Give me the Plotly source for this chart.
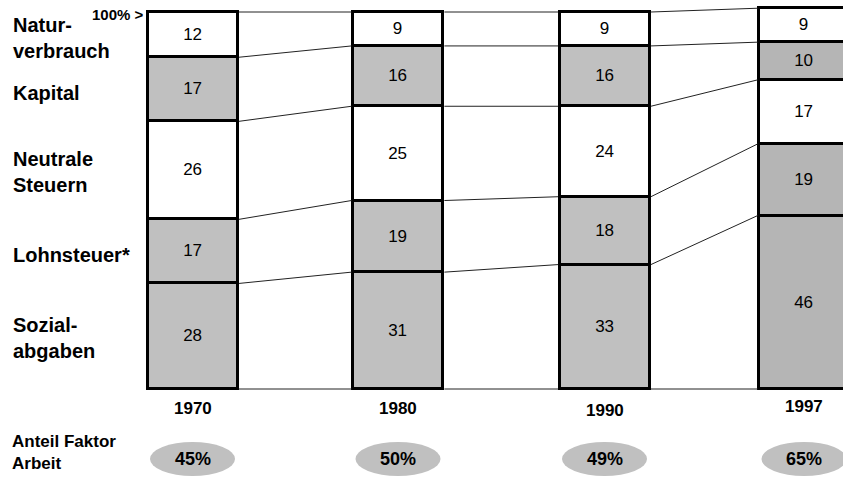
import plotly.graph_objects as go

# ---- data ----
years = ["1970", "1980", "1990", "1997"]
sozialabgaben = [28, 31, 33, 46]
lohnsteuer = [17, 19, 18, 19]
neutrale_steuern = [26, 25, 24, 17]
kapital = [17, 16, 16, 10]
naturverbrauch = [12, 9, 9, 9]
anteil_arbeit = ["45%", "50%", "49%", "65%"]

series_names = ["Sozial-<br>abgaben", "Lohnsteuer*", "Neutrale<br>Steuern", "Kapital", "Natur-<br>verbrauch"]
series_values = [sozialabgaben, lohnsteuer, neutrale_steuern, kapital, naturverbrauch]

# ---- layout helpers (pixel geometry) ----
W, H = 843, 477
Y0_PX, Y100_PX = 389, 12
UNIT = (Y0_PX - Y100_PX) / 100.0
def py(p):  # pixel y -> data y
    return (Y0_PX - p) / UNIT

xpos = [192.5, 398, 604.5, 804]
BW = 90
GRAY = "#c0c0c0"
GRAY2 = "#b5b5b5"
WHITE = "#ffffff"
series_fill = [
    [GRAY, GRAY, GRAY, GRAY2],
    [GRAY, GRAY, GRAY, GRAY2],
    [WHITE] * 4,
    [GRAY, GRAY, GRAY, GRAY2],
    [WHITE] * 4,
]
FONT = "Arial, Liberation Sans, sans-serif"

fig = go.Figure()

for name, vals, cols in zip(series_names, series_values, series_fill):
    fig.add_trace(go.Bar(
        x=xpos, y=vals, width=BW, name=name,
        marker=dict(color=cols, line=dict(color="black", width=2.8)),
        text=[str(v) for v in vals], textposition="inside",
        insidetextanchor="middle", textangle=0,
        textfont=dict(family=FONT, size=17, color="black"),
        hoverinfo="skip", showlegend=False,
    ))

# connector lines between bar boundaries
cums = []
for i in range(len(years)):
    c = [0]
    for vals in series_values:
        c.append(c[-1] + vals[i])
    cums.append(c)
for i in range(len(years) - 1):
    for k in range(len(cums[i])):
        fig.add_trace(go.Scatter(
            x=[xpos[i] + BW / 2 + 1.4, xpos[i + 1] - BW / 2 - 1.4],
            y=[cums[i][k], cums[i + 1][k]],
            mode="lines", line=dict(color="#222222", width=1),
            hoverinfo="skip", showlegend=False,
        ))

annotations = []
# left labels
label_y_px = [337.5, 255, 171.5, 93, 37.5]
for name, ypx in zip(series_names, label_y_px):
    annotations.append(dict(
        x=11, y=py(ypx), xref="x", yref="y", text="<b>%s</b>" % name,
        showarrow=False, xanchor="left", yanchor="middle", align="left",
        font=dict(family=FONT, size=20, color="black"),
    ))
annotations.append(dict(
    x=146, y=py(14), xref="x", yref="y", text="<b>100% ></b>",
    showarrow=False, xanchor="right", yanchor="middle",
    font=dict(family=FONT, size=15, color="black"),
))
# years
year_y_px = [408, 408, 410, 406]
for xp, yr, ypx in zip(xpos, years, year_y_px):
    annotations.append(dict(
        x=xp, y=py(ypx), xref="x", yref="y", text="<b>%s</b>" % yr,
        showarrow=False, xanchor="center", yanchor="middle",
        font=dict(family=FONT, size=17, color="black"),
    ))
# Anteil Faktor Arbeit
annotations.append(dict(
    x=10, y=py(452), xref="x", yref="y", text="<b>Anteil Faktor<br>Arbeit</b>",
    showarrow=False, xanchor="left", yanchor="middle", align="left",
    font=dict(family=FONT, size=17, color="black"),
))
shapes = []
for xp, pct in zip(xpos, anteil_arbeit):
    shapes.append(dict(
        type="circle", xref="x", yref="y",
        x0=xp - 42.5, x1=xp + 42.5, y0=py(476), y1=py(442),
        fillcolor=GRAY, line=dict(width=0), layer="below",
    ))
    annotations.append(dict(
        x=xp, y=py(459), xref="x", yref="y", text="<b>%s</b>" % pct,
        showarrow=False, xanchor="center", yanchor="middle",
        font=dict(family=FONT, size=18, color="black"),
    ))

fig.update_layout(
    width=W, height=H,
    margin=dict(l=0, r=0, t=0, b=0),
    paper_bgcolor="white", plot_bgcolor="white",
    barmode="stack", bargap=0,
    xaxis=dict(range=[0, W], visible=False, fixedrange=True),
    yaxis=dict(range=[py(H), py(0)], visible=False, fixedrange=True),
    annotations=annotations, shapes=shapes,
    uniformtext=dict(mode=False),
)

fig.write_html("out.html")
